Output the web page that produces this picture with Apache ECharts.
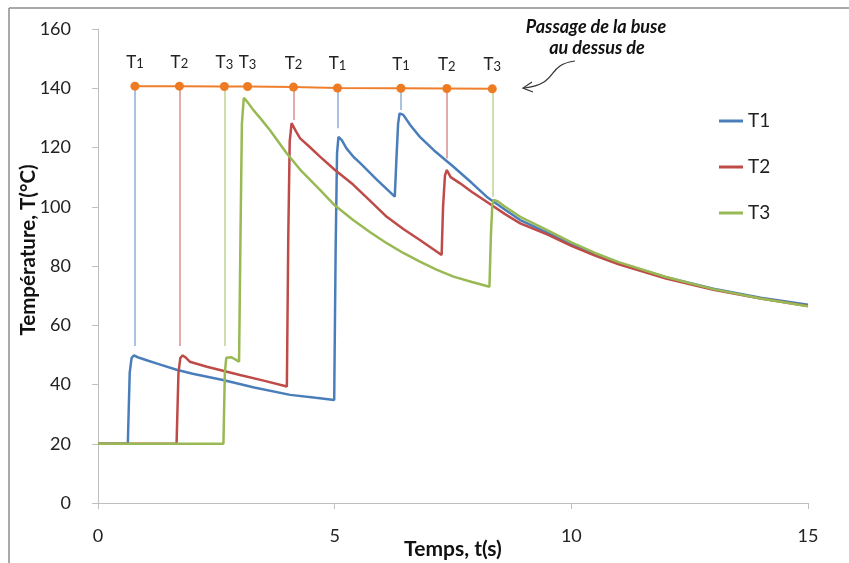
<!DOCTYPE html>
<html>
<head>
<meta charset="utf-8">
<script src="https://cdn.jsdelivr.net/npm/echarts@6/dist/echarts.min.js"></script>
<style>
  html, body { margin: 0; padding: 0; background: #fff; }
  #chart { width: 849px; height: 563px; }
</style>
</head>
<body>
<div id="chart"></div>
<script>
// Temperature histories at the three measuring points (t in s, T in °C)
const t1Time = [0, 0.63, 0.67, 0.71, 0.76, 0.84, 1.06, 1.3, 1.66, 2.0, 2.64, 3.3, 4.06, 4.6, 4.99, 5.02, 5.05, 5.08, 5.15, 5.25, 5.4, 5.54, 5.9, 6.27, 6.31, 6.34, 6.37, 6.45, 6.6, 6.8, 7.1, 7.51, 7.9, 8.21, 8.6, 8.92, 9.5, 10, 10.5, 11, 12, 13, 14, 15];
const t1Temp = [20, 20, 44, 49, 49.8, 49.2, 48, 46.8, 45, 43.6, 41.5, 39, 36.5, 35.5, 34.8, 85, 118, 123.6, 122.5, 119.7, 116.8, 114.7, 109, 103.4, 118, 128, 131.5, 131, 127.5, 123.6, 119, 113.5, 108, 103.4, 99, 95.5, 91.2, 87.3, 84, 81, 76.2, 72.3, 69.3, 66.9];

const t2Time = [0, 1.66, 1.70, 1.74, 1.79, 1.86, 1.94, 2.3, 3.0, 3.5, 3.99, 4.02, 4.05, 4.09, 4.18, 4.27, 4.45, 4.69, 5.0, 5.39, 5.75, 6.10, 6.45, 6.80, 7.26, 7.29, 7.33, 7.37, 7.45, 7.65, 7.9, 8.21, 8.6, 8.92, 9.5, 10, 10.5, 11, 12, 13, 14, 15];
const t2Temp = [20, 20, 44, 49, 49.8, 49, 47.7, 46, 43.2, 41.3, 39.3, 90, 122, 128.2, 125.5, 123.1, 120.5, 116.9, 112.5, 107.5, 102, 96.6, 92.5, 88.8, 83.7, 100, 110.5, 112.4, 110, 107.9, 105, 101.7, 97.5, 94.4, 90.6, 86.8, 83.5, 80.6, 75.8, 72, 69, 66.5];

const t3Time = [0, 2.65, 2.68, 2.71, 2.75, 2.82, 2.98, 3.01, 3.04, 3.08, 3.15, 3.28, 3.45, 3.63, 3.99, 4.3, 4.69, 5.0, 5.39, 5.75, 6.10, 6.45, 6.80, 7.15, 7.51, 7.9, 8.27, 8.30, 8.33, 8.36, 8.45, 8.6, 8.92, 9.5, 10, 10.5, 11, 12, 13, 14, 15];
const t3Temp = [20, 20, 44, 49, 49.6, 49.2, 47.7, 90, 128, 136.8, 135.5, 132.7, 129.5, 125.9, 118, 112, 105.7, 100.5, 95.5, 91.4, 87.7, 84.4, 81.5, 78.8, 76.4, 74.6, 73.0, 90, 100.5, 102.3, 101.8, 100, 96.6, 92, 88, 84.4, 81.3, 76.3, 72.2, 69, 66.4];

// Nozzle passages over the points
const passTime = [0.78, 1.72, 2.67, 3.16, 4.13, 5.06, 6.40, 7.37, 8.33];
const passLevel = [140.7, 140.7, 140.6, 140.6, 140.4, 140.1, 140.0, 139.9, 139.8];
const passIndex = ['1', '2', '3', '3', '2', '1', '1', '2', '3'];

// Leader lines from each passage down to the matching temperature peak
const leaderTime = [0.78, 1.72, 2.67, 4.13, 5.06, 6.40, 7.37, 8.33];
const leaderTop = [140.7, 140.7, 140.6, 140.4, 140.1, 140.0, 139.9, 139.8];
const leaderEnd = [53, 53, 53, 129.3, 126.5, 132.7, 116.3, 103.4];
const leaderOwner = [0, 1, 2, 1, 0, 0, 1, 2];

const seriesNames = ['T1', 'T2', 'T3'];
const lineColors = ['#4A7EBB', '#BE4B48', '#98B954'];
const leaderColors = ['#95B3D7', '#D99694', '#C3D69B'];

const FONT = 'Lato, "Open Sans", sans-serif';
const zip = (xs, ys) => xs.map((x, i) => [x, ys[i]]);
const curves = [zip(t1Time, t1Temp), zip(t2Time, t2Temp), zip(t3Time, t3Temp)];

const chart = echarts.init(document.getElementById('chart'), null, { renderer: 'canvas' });

const tempSeries = curves.map((data, k) => ({
  name: seriesNames[k],
  type: 'line',
  data: data,
  showSymbol: false,
  symbol: 'none',
  smooth: false,
  z: 3,
  lineStyle: { color: lineColors[k], width: 2.5 },
  itemStyle: { color: lineColors[k] },
  markLine: {
    silent: true,
    symbol: 'none',
    label: { show: false },
    lineStyle: { color: leaderColors[k], width: 1.6, type: 'solid', opacity: 1 },
    data: leaderTime
      .map((t, i) => ({ t, i }))
      .filter(o => leaderOwner[o.i] === k)
      .map(o => [{ coord: [o.t, leaderTop[o.i]] }, { coord: [o.t, leaderEnd[o.i]] }])
  }
}));

const passSeries = {
  name: 'passage',
  type: 'line',
  z: 5,
  data: passTime.map((t, i) => ({
    value: [t, passLevel[i]],
    label: { formatter: '{t|T}{s|' + passIndex[i] + '}' }
  })),
  symbol: 'circle',
  symbolSize: 9,
  showSymbol: true,
  lineStyle: { color: '#F07F2D', width: 2 },
  itemStyle: { color: '#EE7A22' },
  label: {
    show: true,
    position: 'top',
    distance: 11,
    rich: {
      t: { fontFamily: FONT, fontSize: 17, color: '#222', lineHeight: 18, verticalAlign: 'bottom' },
      s: { fontFamily: FONT, fontSize: 13, color: '#222', lineHeight: 6, verticalAlign: 'bottom' }
    }
  }
};

chart.setOption({
  animation: false,
  backgroundColor: '#fff',
  grid: { left: 98, right: 41, top: 29, bottom: 60, containLabel: false, outerBoundsMode: 'none' },
  legend: {
    data: seriesNames,
    orient: 'vertical',
    left: 714,
    top: 106,
    itemWidth: 24,
    itemHeight: 3,
    itemGap: 26,
    icon: 'rect',
    textStyle: { fontFamily: FONT, fontSize: 19, color: '#222', lineHeight: 20 }
  },
  xAxis: {
    type: 'value',
    min: 0,
    max: 15,
    interval: 5,
    name: 'Temps, t(s)',
    nameLocation: 'middle',
    nameGap: 36,
    nameMoveOverlap: false,
    nameTextStyle: { fontFamily: FONT, fontSize: 21, fontWeight: 'bold', color: '#111' },
    axisLine: { show: true, onZero: false, lineStyle: { color: '#BFBFBF', width: 1 } },
    axisTick: { show: true, inside: false, length: 6, lineStyle: { color: '#BFBFBF' } },
    axisLabel: { fontFamily: FONT, fontSize: 18, color: '#222', margin: 24 },
    splitLine: { show: false }
  },
  yAxis: {
    type: 'value',
    min: 0,
    max: 160,
    interval: 20,
    axisLine: { show: true, lineStyle: { color: '#BFBFBF', width: 1 } },
    axisTick: { show: true, inside: false, length: 6, lineStyle: { color: '#BFBFBF' } },
    axisLabel: { fontFamily: FONT, fontSize: 18, color: '#222', margin: 27 },
    splitLine: { show: false }
  },
  graphic: [
    // outer frame (top and left edges)
    { type: 'line', silent: true, shape: { x1: 9, y1: 8, x2: 849, y2: 8 }, style: { stroke: '#8C8C8C', lineWidth: 1.5 } },
    { type: 'line', silent: true, shape: { x1: 9, y1: 8, x2: 9, y2: 563 }, style: { stroke: '#8C8C8C', lineWidth: 1.5 } },
    // vertical axis title
    {
      type: 'text', silent: true, x: 28, y: 250, rotation: Math.PI / 2,
      style: { text: 'Température, T(°C)', fontFamily: FONT, fontSize: 20.5, fontWeight: 'bold', fill: '#111', align: 'center', verticalAlign: 'middle' }
    },
    // note about the nozzle
    {
      type: 'text', silent: true, x: 596, y: 27,
      style: { text: 'Passage de la buse', fontFamily: FONT, fontSize: 18, fontWeight: 'bold', fontStyle: 'italic', fill: '#111', align: 'center', verticalAlign: 'middle' }
    },
    {
      type: 'text', silent: true, x: 597, y: 48,
      style: { text: 'au dessus de', fontFamily: FONT, fontSize: 18, fontWeight: 'bold', fontStyle: 'italic', fill: '#111', align: 'center', verticalAlign: 'middle' }
    },
    {
      type: 'bezierCurve', silent: true,
      shape: { x1: 575, y1: 61, cpx1: 545, cpy1: 65, cpx2: 560, cpy2: 84, x2: 524, y2: 88 },
      style: { stroke: '#333', lineWidth: 1.2, fill: null }
    },
    {
      type: 'polyline', silent: true,
      shape: { points: [[532, 82], [523, 88], [533, 92]] },
      style: { stroke: '#333', lineWidth: 1.2, fill: null }
    }
  ],
  series: tempSeries.concat([passSeries])
});
</script>
</body>
</html>
